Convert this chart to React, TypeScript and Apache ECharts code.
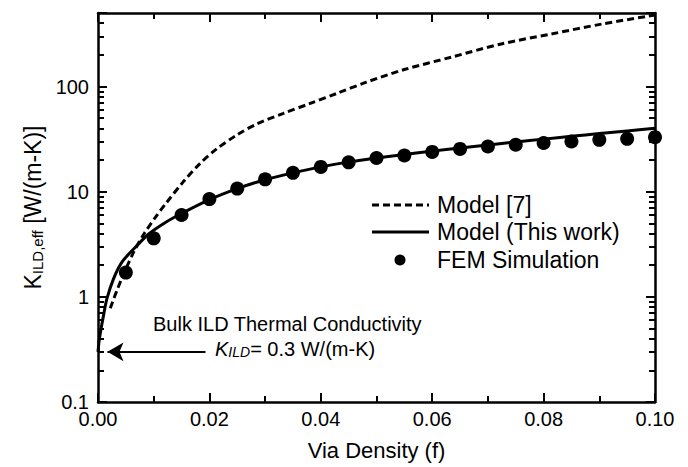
import React, { useEffect, useRef } from "react";
import * as echarts from "echarts";

const dashF = [0.0022, 0.0025, 0.0034, 0.0046, 0.0064, 0.0083, 0.0103, 0.012, 0.0153, 0.0183, 0.0213, 0.0249, 0.0285, 0.0333, 0.0381, 0.0429, 0.0482, 0.055, 0.0634, 0.0724, 0.0814, 0.0905, 0.1];
const dashK = [0.78, 0.86, 1.15, 1.65, 2.66, 4.0, 5.7, 7.5, 12.4, 18.5, 25.5, 34.5, 44, 55.6, 69, 86, 110, 145, 190, 254, 316, 393, 478];

const solidF = [0, 0.0002, 0.0005, 0.001, 0.0016, 0.0028, 0.0043, 0.0067, 0.0091, 0.0121, 0.015, 0.02, 0.025, 0.03, 0.035, 0.04, 0.045, 0.05, 0.055, 0.06, 0.065, 0.07, 0.075, 0.08, 0.085, 0.09, 0.095, 0.1];
const solidK = [0.3, 0.38, 0.48, 0.67, 0.96, 1.49, 2.14, 2.96, 3.96, 5.1, 6.2, 8.4, 10.7, 13.0, 15.1, 17.2, 19.1, 20.9, 22.6, 24.3, 26.0, 27.8, 29.7, 31.6, 33.6, 35.7, 37.8, 40.0];

const femF = [0.005, 0.01, 0.015, 0.02, 0.025, 0.03, 0.035, 0.04, 0.045, 0.05, 0.055, 0.06, 0.065, 0.07, 0.075, 0.08, 0.085, 0.09, 0.095, 0.1];
const femK = [1.7, 3.6, 6.0, 8.5, 10.7, 13.1, 15.1, 17.2, 19.0, 20.9, 22.1, 23.9, 25.5, 26.9, 27.9, 29.0, 30.0, 31.1, 31.8, 33.0];

const seriesNames = ["Model [7]", "Model (This work)", "FEM Simulation"];
const xTicks = { min: 0, max: 0.1, interval: 0.02, minorInterval: 0.01 };
const yRange = { min: 0.1, max: 500 };
const majorX: number[] = [0.02, 0.04, 0.06, 0.08];
const minorX: number[] = [0.01, 0.03, 0.05, 0.07, 0.09];
const majorY: number[] = [1, 10, 100];
const minorY: number[] = [];
for (let k = -1; k <= 2; k++) {
  for (let m = 2; m <= 9; m++) {
    const v = m * Math.pow(10, k);
    if (v < yRange.max) minorY.push(v);
  }
}
const arrowFrom = [0.0193, 0.3];
const arrowTo = [0.0017, 0.3];

const FONT = "'Liberation Sans', Arial, Helvetica, sans-serif";
const MAJOR = 9;
const MINOR = 6;

export default function App() {
  const ref = useRef<HTMLDivElement>(null);
  useEffect(() => {
    if (!ref.current) return;
    const chart = echarts.init(ref.current, null, { renderer: "svg" });
    const axisLine = { show: true, onZero: false, lineStyle: { color: "#000", width: 2.5 } };
    const tickStyle = { color: "#000", width: 2 };
    const hiddenLine = { show: true, onZero: false, lineStyle: { color: "rgba(0,0,0,0)", width: 0.1 } };
    const xTickAxis = (position: string, interval: number, len: number) => ({
      type: "value",
      min: xTicks.min,
      max: xTicks.max,
      interval,
      position,
      offset: -len,
      splitLine: { show: false },
      axisLine: hiddenLine,
      axisLabel: { show: false },
      axisTick: { show: true, inside: false, length: len, lineStyle: tickStyle },
    });
    const yTickAxis = (position: string) => ({
      type: "log",
      logBase: 10,
      min: yRange.min,
      max: yRange.max,
      position,
      offset: -MAJOR,
      splitLine: { show: false },
      axisLine: hiddenLine,
      axisLabel: { show: false },
      axisTick: { show: true, inside: false, length: MAJOR, lineStyle: tickStyle },
    });
    const baseGraphics: any[] = [
      {
        type: "text",
        left: 153,
        top: 314,
        style: { text: "Bulk ILD Thermal Conductivity", font: `20px ${FONT}`, fill: "#000" },
      },
      {
        type: "text",
        left: 215,
        top: 339,
        style: {
          text: "{i|K}{s|ILD}{n|= 0.3 W/(m-K)}",
          rich: {
            i: { fontFamily: FONT, fontSize: 20, fontStyle: "italic", fill: "#000", verticalAlign: "bottom", lineHeight: 24 },
            s: { fontFamily: FONT, fontSize: 14, fontStyle: "italic", fill: "#000", verticalAlign: "bottom", lineHeight: 17 },
            n: { fontFamily: FONT, fontSize: 20, fill: "#000", verticalAlign: "bottom", lineHeight: 24 },
          },
        },
      },
      { type: "line", shape: { x1: 372, y1: 205, x2: 429, y2: 205 }, style: { stroke: "#000", lineWidth: 3, lineDash: [7, 4] } },
      { type: "line", shape: { x1: 372, y1: 232, x2: 429, y2: 232 }, style: { stroke: "#000", lineWidth: 3 } },
      { type: "circle", shape: { cx: 400, cy: 260, r: 5.5 }, style: { fill: "#000" } },
      { type: "text", left: 437, top: 193, style: { text: seriesNames[0], font: `23px ${FONT}`, fill: "#000" } },
      { type: "text", left: 437, top: 220, style: { text: seriesNames[1], font: `23px ${FONT}`, fill: "#000" } },
      { type: "text", left: 437, top: 248, style: { text: seriesNames[2], font: `23px ${FONT}`, fill: "#000" } },
    ];
    const arrowItem: any = [
      { coord: arrowFrom, symbol: "none" },
      { coord: arrowTo, symbol: "arrow" },
    ];
    const option: any = {
      animation: false,
      backgroundColor: "#fff",
      textStyle: { fontFamily: FONT, color: "#000" },
      grid: { left: 98, right: 33, top: 13, bottom: 65 },
      xAxis: [
        {
          type: "value",
          min: xTicks.min,
          max: xTicks.max,
          interval: xTicks.interval,
          position: "bottom",
          splitLine: { show: false },
          axisLine,
          axisTick: { show: false },
          name: "Via Density (f)",
          nameLocation: "middle",
          nameGap: 37,
          nameTextStyle: { fontFamily: FONT, fontSize: 22, color: "#000" },
          axisLabel: {
            show: true,
            margin: 7,
            fontFamily: FONT,
            fontSize: 20,
            color: "#000",
            formatter: (v: number) => v.toFixed(2),
          },
        },
        {
          type: "value",
          min: xTicks.min,
          max: xTicks.max,
          interval: xTicks.interval,
          position: "top",
          splitLine: { show: false },
          axisLine,
          axisTick: { show: false },
          axisLabel: { show: false },
        },
        xTickAxis("bottom", xTicks.interval, MAJOR),
        xTickAxis("top", xTicks.interval, MAJOR),
        xTickAxis("bottom", xTicks.minorInterval, MINOR),
        xTickAxis("top", xTicks.minorInterval, MINOR),
      ],
      yAxis: [
        {
          type: "log",
          logBase: 10,
          min: yRange.min,
          max: yRange.max,
          position: "left",
          splitLine: { show: false },
          axisLine,
          axisTick: { show: false },
          name: "{k|K}{s|ILD,eff}{k| [W/(m-K)]}",
          nameLocation: "middle",
          nameGap: 48,
          nameRotate: 90,
          nameTextStyle: {
            fontFamily: FONT,
            color: "#000",
            rich: {
              k: { fontFamily: FONT, fontSize: 23, color: "#000", verticalAlign: "bottom", lineHeight: 26 },
              s: { fontFamily: FONT, fontSize: 15, color: "#000", verticalAlign: "bottom", lineHeight: 19 },
            },
          },
          axisLabel: {
            show: true,
            margin: 9,
            fontFamily: FONT,
            fontSize: 20,
            color: "#000",
            showMaxLabel: false,
            formatter: (v: number) => String(Number(v.toPrecision(3))),
          },
        },
        {
          type: "log",
          logBase: 10,
          min: yRange.min,
          max: yRange.max,
          position: "right",
          splitLine: { show: false },
          axisLine,
          axisTick: { show: false },
          axisLabel: { show: false },
        },
        yTickAxis("left"),
        yTickAxis("right"),
      ],
      graphic: baseGraphics,
      series: [
        {
          name: seriesNames[0],
          type: "line",
          data: dashF.map((f, i) => [f, dashK[i]]),
          symbol: "none",
          smooth: 0.3,
          lineStyle: { color: "#000", width: 3, type: [7, 4] },
          itemStyle: { color: "#000" },
          z: 3,
        },
        {
          name: seriesNames[1],
          type: "line",
          data: solidF.map((f, i) => [f, solidK[i]]),
          symbol: "none",
          smooth: 0.3,
          lineStyle: { color: "#000", width: 3 },
          itemStyle: { color: "#000" },
          z: 3,
          markLine: {
            silent: true,
            symbol: ["none", "arrow"],
            symbolSize: [14, 16],
            label: { show: false },
            lineStyle: { color: "#000", width: 2, type: "solid" },
            data: [arrowItem],
          },
        },
        {
          name: seriesNames[2],
          type: "scatter",
          data: femF.map((f, i) => [f, femK[i]]),
          symbol: "circle",
          symbolSize: 14,
          itemStyle: { color: "#000", opacity: 1 },
          z: 4,
        },
      ],
    };
    chart.setOption(option);

    try {
      const finder: any = { xAxisIndex: 0, yAxisIndex: 0 };
      const toPx = (x: number, y: number) => chart.convertToPixel(finder, [x, y]) as number[];
      const seg = (x1: number, y1: number, x2: number, y2: number) => [
        { x: x1, y: y1, symbol: "none" },
        { x: x2, y: y2, symbol: "none" },
      ];
      const tickItems: any[] = [];
      const addX = (v: number, len: number) => {
        const b = toPx(v, yRange.min);
        const t = toPx(v, yRange.max);
        if (!b || !t) return;
        tickItems.push(seg(b[0], b[1], b[0], b[1] - len));
        tickItems.push(seg(t[0], t[1], t[0], t[1] + len));
      };
      const addY = (v: number, len: number) => {
        const l = toPx(xTicks.min, v);
        const r = toPx(xTicks.max, v);
        if (!l || !r) return;
        tickItems.push(seg(l[0], l[1], l[0] + len, l[1]));
        tickItems.push(seg(r[0], r[1], r[0] - len, r[1]));
      };
      majorX.forEach((v) => addX(v, MAJOR));
      minorX.forEach((v) => addX(v, MINOR));
      majorY.forEach((v) => addY(v, MAJOR));
      minorY.forEach((v) => addY(v, MINOR));
      chart.setOption({
        series: [{}, { markLine: { data: [arrowItem, ...tickItems] } }, {}],
      });
    } catch (e) {
      console.error(e);
    }

    return () => chart.dispose();
  }, []);
  return (
    <div
      ref={ref}
      style={{ position: "absolute", left: 0, top: 0, width: 688, height: 467 }}
    />
  );
}
